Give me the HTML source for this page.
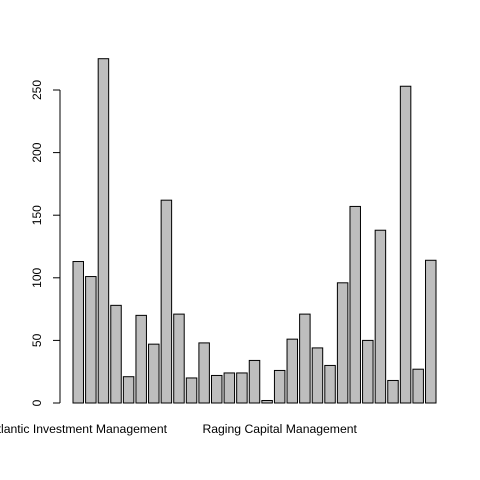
<!DOCTYPE html>
<html><head><meta charset="utf-8"><style>body{margin:0;background:#fff}svg{display:block}</style></head>
<body>
<svg id="c" width="480" height="480" xmlns="http://www.w3.org/2000/svg" font-family="Liberation Sans, sans-serif" font-size="12"></svg>
<script>
const values=[113,101,275,78,21,70,47,162,71,20,48,22,24,24,34,2,26,51,71,44,30,96,157,50,138,18,253,27,114];
const ticks=[0,50,100,150,200,250];
const labels=[{i:0,t:"Atlantic Investment Management"},{i:16,t:"Raging Capital Management"}];
const svg=document.getElementById('c');const NS="http://www.w3.org/2000/svg";
const y=v=>403-v*1.252;
const bw=10.49,step=12.59,x0=73;
const x=i=>x0+i*step;
function mk(t,a,p){const e=document.createElementNS(NS,t);for(const k in a)e.setAttribute(k,a[k]);(p||svg).appendChild(e);return e;}
values.forEach((v,i)=>{
 const r=mk('rect',{x:x(i),y:y(v),width:bw,height:403-y(v),fill:'#bebebe',stroke:'#000','stroke-width':1});
 
 
});
const ax=mk('g',{});


mk('line',{x1:60,x2:60,y1:y(ticks[0]),y2:y(ticks[ticks.length-1]),stroke:'#000'},ax);
ticks.forEach(t=>{
 mk('line',{x1:53,x2:60,y1:y(t),y2:y(t),stroke:'#000'},ax);
 const tx=mk('text',{x:41,y:y(t),transform:`rotate(-90 41 ${y(t)})`,'text-anchor':'middle'},ax);
 tx.textContent=t;
 
 
});
labels.forEach(l=>{
 const tx=mk('text',{x:x(l.i)+bw/2,y:433,'text-anchor':'middle','font-size':12.2});
 tx.textContent=l.t;
 
 
});
</script>
</body></html>
